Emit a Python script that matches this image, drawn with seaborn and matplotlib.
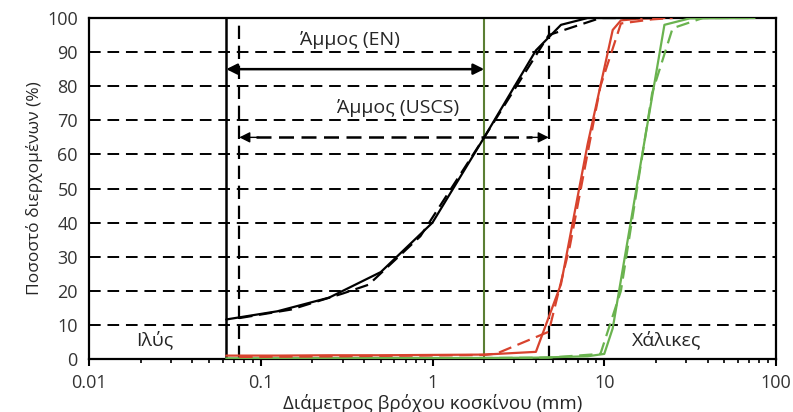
import matplotlib
matplotlib.use("Agg")
import matplotlib.pyplot as plt
import seaborn as sns
import numpy as np
import pandas as pd
from matplotlib.ticker import LogLocator, FixedLocator, FixedFormatter, NullFormatter

# ---------------- data ----------------
# black (sand) – EN sieves (solid) and USCS sieves (dashed)
black_en_x = [0.063, 0.125, 0.25, 0.5, 1.0, 2.0, 4.0, 5.6, 8.0, 16.0]
black_en_y = [11.6, 14.0, 18.0, 25.5, 40.0, 65.0, 90.5, 98.0, 100.0, 100.0]
black_us_x = [0.075, 0.15, 0.3, 0.425, 0.85, 2.0, 4.75, 9.5, 19.0]
black_us_y = [12.0, 14.5, 19.2, 21.8, 36.0, 65.0, 95.0, 100.0, 100.0]

# red – EN (solid) and USCS (dashed)
red_en_x = [0.063, 0.125, 0.25, 0.5, 1.0, 2.0, 4.0, 5.6, 8.0, 11.2, 12.5, 16.0, 22.4]
red_en_y = [1.0, 1.0, 1.1, 1.1, 1.2, 1.3, 2.1, 22.0, 63.0, 96.5, 99.3, 99.8, 100.0]
red_us_x = [0.075, 0.15, 0.3, 0.425, 0.85, 2.0, 2.36, 4.75, 6.3, 9.5, 12.5, 19.0, 25.0]
red_us_y = [0.6, 0.7, 0.8, 0.9, 1.0, 1.2, 1.6, 8.0, 33.0, 80.0, 98.4, 99.6, 100.0]

# green – EN (solid) and USCS (dashed)
green_en_x = [0.063, 0.5, 2.0, 4.0, 8.0, 10.0, 11.2, 16.0, 22.4, 31.5, 63.0, 75.0]
green_en_y = [0.2, 0.3, 0.3, 0.4, 0.8, 1.5, 9.0, 55.0, 98.0, 99.9, 100.0, 100.0]
green_us_x = [0.075, 0.425, 2.0, 4.75, 9.5, 12.5, 19.0, 25.0, 37.5, 75.0]
green_us_y = [0.2, 0.3, 0.3, 0.4, 1.5, 20.0, 78.0, 97.0, 100.0, 100.0]

# boundaries (mm)
silt_en = 0.063
silt_uscs = 0.075
sand_en = 2.0
sand_uscs = 4.75

x_ticks = [0.01, 0.1, 1, 10, 100]
x_tick_labels = ["0.01", "0.1", "1", "10", "100"]
y_ticks = [0, 10, 20, 30, 40, 50, 60, 70, 80, 90, 100]

# ---------------- style ----------------
sns.set_theme(style="white")
plt.rcParams['font.family'] = ['Open Sans', 'DejaVu Sans']

RED = "#d8432e"
GREEN = "#6ab34f"
OLIVE = "#5b7f33"
TXT = "#262626"

fig = plt.figure(figsize=(7.93, 4.12), dpi=100)
ax = fig.add_axes([0.1122, 0.1286, 0.8664, 0.8277])

# horizontal dashed grid
for yv in y_ticks[1:-1]:
    ax.axhline(yv, color="black", lw=1.4, ls=(0, (6, 3.5)), zorder=1)

# boundary lines
ax.axvline(silt_en, color="black", lw=1.8, zorder=2)
ax.axvline(silt_uscs, color="black", lw=1.6, ls=(0, (6, 3)), zorder=2)
ax.axvline(sand_en, color=OLIVE, lw=1.5, zorder=2)
ax.axvline(sand_uscs, color="black", lw=1.6, ls=(0, (6, 3)), zorder=2)

def curve(x, y, color, dashed):
    df = pd.DataFrame({"d": x, "p": y})
    sns.lineplot(data=df, x="d", y="p", ax=ax, color=color, lw=1.6,
                 estimator=None, sort=False,
                 linestyle=(0, (6, 3)) if dashed else "-", zorder=4)

curve(green_en_x, green_en_y, GREEN, False)
curve(green_us_x, green_us_y, GREEN, True)
curve(red_en_x, red_en_y, RED, False)
curve(red_us_x, red_us_y, RED, True)
curve(black_en_x, black_en_y, "black", False)
curve(black_us_x, black_us_y, "black", True)

# arrows
ax.annotate("", xy=(sand_en, 85), xytext=(silt_en, 85),
            arrowprops=dict(arrowstyle="<|-|>", color="black", lw=1.8,
                            mutation_scale=16, shrinkA=0, shrinkB=0), zorder=5)
ax.plot([silt_uscs * 1.25, sand_uscs / 1.25], [65, 65], color="black", lw=1.8,
        ls=(0, (6, 3)), zorder=5)
ax.annotate("", xy=(silt_uscs, 65), xytext=(silt_uscs * 1.3, 65),
            arrowprops=dict(arrowstyle="-|>", color="black", lw=1.0,
                            mutation_scale=16, shrinkA=0, shrinkB=0), zorder=5)
ax.annotate("", xy=(sand_uscs, 65), xytext=(sand_uscs / 1.3, 65),
            arrowprops=dict(arrowstyle="-|>", color="black", lw=1.0,
                            mutation_scale=16, shrinkA=0, shrinkB=0), zorder=5)

ax.text(0.33, 93.5, "Άμμος (EN)", ha="center", va="center", fontsize=14, color=TXT)
ax.text(0.63, 73.5, "Άμμος (USCS)", ha="center", va="center", fontsize=14, color=TXT)
ax.text(0.024, 5.5, "Ιλύς", ha="center", va="center", fontsize=14, color=TXT)
ax.text(23, 5.5, "Χάλικες", ha="center", va="center", fontsize=14, color=TXT)

# axes
ax.set_xscale("log")
ax.set_xlim(0.01, 100)
ax.set_ylim(0, 100)
ax.xaxis.set_major_locator(FixedLocator(x_ticks))
ax.xaxis.set_major_formatter(FixedFormatter(x_tick_labels))
ax.xaxis.set_minor_locator(LogLocator(base=10, subs=np.arange(2, 10)))
ax.xaxis.set_minor_formatter(NullFormatter())
ax.set_yticks(y_ticks)
ax.tick_params(axis="x", which="major", direction="out", length=5, width=1.5,
               bottom=True, labelsize=13, colors="black", labelcolor="#333333", pad=6)
ax.tick_params(axis="x", which="minor", direction="out", length=3, width=1.2,
               bottom=True, colors="black")
ax.tick_params(axis="y", length=0, labelsize=13, labelcolor="#333333", pad=8)

for s in ax.spines.values():
    s.set_color("black")
    s.set_linewidth(1.6)

ax.set_xlabel("Διάμετρος βρόχου κοσκίνου (mm)", fontsize=13.5, color=TXT, labelpad=1)
ax.set_ylabel("Ποσοστό διερχομένων (%)", fontsize=12.5, color=TXT, labelpad=3)

fig.savefig("out.png", dpi=100)
